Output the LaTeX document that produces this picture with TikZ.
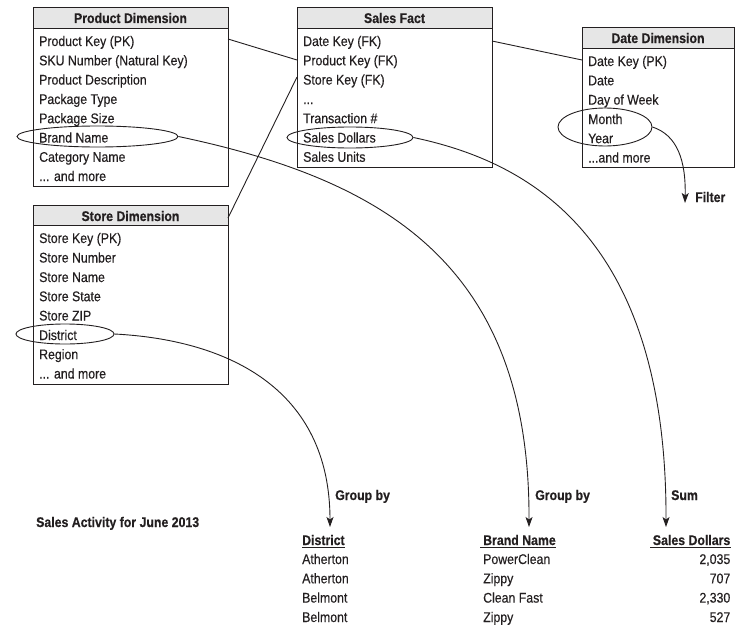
\documentclass[tikz,border=0pt]{standalone}
\usepackage{fontspec}
\setmainfont[FakeStretch=0.88,FakeBold=0.4]{Liberation Sans}
\usetikzlibrary{shapes.geometric,arrows.meta,calc}
\definecolor{hdrgray}{HTML}{E6E6E6}
\definecolor{ink}{HTML}{231F20}
\begin{document}
\begin{tikzpicture}[x=1pt,y=-1pt,
  every node/.style={text=ink},
  boxline/.style={draw=ink,line width=1pt},
  hdrbox/.style={boxline,fill=hdrgray,anchor=north west,inner sep=0pt,minimum width=#1},
  bodybox/.style={boxline,anchor=north west,inner sep=0pt,minimum width=#1},
  title/.style={anchor=base,inner sep=0pt,font=\fontsize{14}{16}\selectfont\bfseries},
  row/.style={anchor=base west,inner sep=0pt,font=\fontsize{14}{16}\selectfont},
  rrow/.style={anchor=base east,inner sep=0pt,font=\fontsize{14}{16}\selectfont},
  lbl/.style={anchor=base west,inner sep=0pt,font=\fontsize{14}{16}\selectfont\bfseries},
  oval/.style={draw=ink,line width=0.9pt,ellipse,inner sep=0pt},
  link/.style={draw=ink,line width=0.9pt},
  arr/.style={draw=ink,line width=0.9pt,-{Stealth[length=10pt,width=7pt,inset=2.5pt]}},
  uline/.style={draw=ink,line width=1pt}
]
\useasboundingbox (0,0) rectangle (753,629);

% ---------- Product Dimension ----------
\node[hdrbox=195pt,minimum height=21pt] (pdh) at (33,7) {};
\node[bodybox=195pt,minimum height=158pt] (pdb) at (33,28) {};
\node[title] (pdt) at (130.5,23) {Product Dimension};
\node[row] (pd1) at (39,46) {Product Key (PK)};
\node[row] (pd2) at (39,65.3) {SKU Number (Natural Key)};
\node[row] (pd3) at (39,84.6) {Product Description};
\node[row] (pd4) at (39,104) {Package Type};
\node[row] (pd5) at (39,123.2) {Package Size};
\node[row] (pd6) at (39,142.5) {Brand Name};
\node[row] (pd7) at (39,161.8) {Category Name};
\node[row] (pd8) at (39,181) {... and more};

% ---------- Sales Fact ----------
\node[hdrbox=195pt,minimum height=21pt] (sfh) at (297,7) {};
\node[bodybox=195pt,minimum height=139pt] (sfb) at (297,28) {};
\node[title] (sft) at (394.5,23) {Sales Fact};
\node[row] (sf1) at (303,46) {Date Key (FK)};
\node[row] (sf2) at (303,65.3) {Product Key (FK)};
\node[row] (sf3) at (303,84.6) {Store Key (FK)};
\node[row] (sf4) at (303,104) {...};
\node[row] (sf5) at (303,123.2) {Transaction \#};
\node[row] (sf6) at (303,142.5) {Sales Dollars};
\node[row] (sf7) at (303,161.8) {Sales Units};

% ---------- Date Dimension ----------
\node[hdrbox=152pt,minimum height=21pt] (ddh) at (582,27) {};
\node[bodybox=152pt,minimum height=119pt] (ddb) at (582,48) {};
\node[title] (ddt) at (658,43) {Date Dimension};
\node[row] (dd1) at (588,66) {Date Key (PK)};
\node[row] (dd2) at (588,85.3) {Date};
\node[row] (dd3) at (588,104.6) {Day of Week};
\node[row] (dd4) at (588,124) {Month};
\node[row] (dd5) at (588,143.2) {Year};
\node[row] (dd6) at (588,162.5) {...and more};

% ---------- Store Dimension ----------
\node[hdrbox=195pt,minimum height=20pt] (stdh) at (33,205) {};
\node[bodybox=195pt,minimum height=159pt] (stdb) at (33,225) {};
\node[title] (stdt) at (130.5,221) {Store Dimension};
\node[row] (st1) at (39,243) {Store Key (PK)};
\node[row] (st2) at (39,262.5) {Store Number};
\node[row] (st3) at (39,282) {Store Name};
\node[row] (st4) at (39,301.2) {Store State};
\node[row] (st5) at (39,320.5) {Store ZIP};
\node[row] (st6) at (39,340) {District};
\node[row] (st7) at (39,359.2) {Region};
\node[row] (st8) at (39,378.5) {... and more};

% ---------- key links ----------
\coordinate (pkA) at (228,39);
\coordinate (pkB) at (297,60);
\draw[link] (pkA) -- (pkB);
\coordinate (dkA) at (492,41);
\coordinate (dkB) at (582,60);
\draw[link] (dkA) -- (dkB);
\coordinate (skA) at (297,77);
\coordinate (skB) at (228,218);
\draw[link] (skA) -- (skB);

% ---------- ovals ----------
\node[oval,minimum width=161pt,minimum height=21pt] (bnE) at (97.5,136.5) {};
\node[oval,minimum width=126pt,minimum height=21pt] (sdE) at (350,137.5) {};
\node[oval,minimum width=94pt,minimum height=38pt] (myE) at (605,127) {};
\node[oval,minimum width=98pt,minimum height=20pt] (diE) at (65,334) {};

% ---------- labels ----------
\node[lbl] (gb1) at (335,500) {Group by};
\node[lbl] (gb2) at (535,500) {Group by};
\node[lbl] (sum) at (671,500) {Sum};
\node[lbl] (flt) at (695,202) {Filter};
\node[lbl] (ttl) at (36,527) {Sales Activity for June 2013};

% arrow end points
\coordinate (diT) at (330,527);
\coordinate (bnT) at (529,527);
\coordinate (sdT) at (666,527);
\coordinate (myT) at (685,203);

\draw[arr] (diE.east) .. controls (230,340) and (330,390) .. (diT);
\draw[arr] (bnE.east) .. controls (385,180) and (530,265) .. (bnT);
\draw[arr] (sdE.east) .. controls (520,160) and (667,228) .. (sdT);
\draw[arr] (myE.east) .. controls (677,135) and (686,160) .. (myT);

% ---------- result table ----------
\node[lbl] (h1) at (302,545) {District};
\node[lbl] (h2) at (483,545) {Brand Name};
\node[anchor=base east,inner sep=0pt,font=\fontsize{14}{16}\selectfont\bfseries] (h3) at (730.5,545) {Sales Dollars};
\coordinate (u1a) at (302,547.5); \coordinate (u1b) at (345,547.5);
\coordinate (u2a) at (480,547.5); \coordinate (u2b) at (556,547.5);
\coordinate (u3a) at (650,547.5); \coordinate (u3b) at (731,547.5);
\draw[uline] (u1a) -- (u1b);
\draw[uline] (u2a) -- (u2b);
\draw[uline] (u3a) -- (u3b);

\node[row] (r1a) at (302,564) {Atherton};
\node[row] (r2a) at (302,583.3) {Atherton};
\node[row] (r3a) at (302,602.6) {Belmont};
\node[row] (r4a) at (302,622) {Belmont};
\node[row] (r1b) at (483,564) {PowerClean};
\node[row] (r2b) at (483,583.3) {Zippy};
\node[row] (r3b) at (483,602.6) {Clean Fast};
\node[row] (r4b) at (483,622) {Zippy};
\node[rrow] (r1c) at (730.5,564) {2,035};
\node[rrow] (r2c) at (730.5,583.3) {707};
\node[rrow] (r3c) at (730.5,602.6) {2,330};
\node[rrow] (r4c) at (730.5,622) {527};
\end{tikzpicture}
\end{document}
